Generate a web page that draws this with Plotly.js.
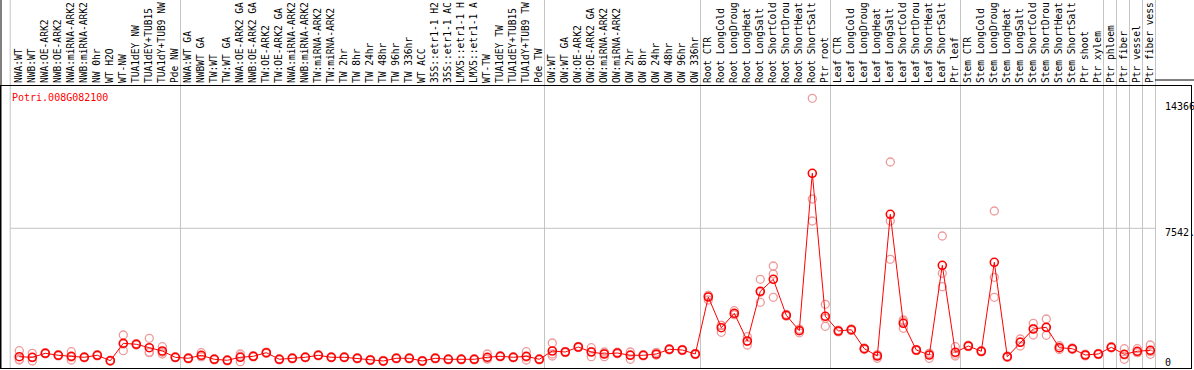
<!DOCTYPE html>
<html>
<head>
<meta charset="utf-8">
<script src="https://cdn.plot.ly/plotly-3.0.1.min.js"></script>
<style>html,body{margin:0;padding:0;background:#fff;}#chart{width:1194px;height:370px;}</style>
</head>
<body>
<div id="chart"></div>
<script>
const geneName = "Potri.008G082100";

// column labels as they are visible in the header (long names are cut at the top)
const sampleLabels = [
  "NWA:WT","NWB:WT","NWA:OE-ARK2","NWB:OE-ARK2","NWA:miRNA-ARK2","NWB:miRNA-ARK2","NW 0hr","WT H2O","WT-NW","TUA1dEY NW","TUA1dEY+TUB15","TUA1dY+TUB9 NW","Pde NW",
  "NWA:WT GA","NWBWT GA","TW:WT","TW:WT GA","NWA:OE-ARK2 GA","NWB:OE-ARK2 GA","TW:OE-ARK2","TW:OE-ARK2 GA","NWA:miRNA-ARK2","NWB:miRNA-ARK2","TW:miRNA-ARK2","TW:miRNA-ARK2",
  "TW 2hr","TW 8hr","TW 24hr","TW 48hr","TW 96hr","TW 336hr","WT ACC","35S::etr1-1 H2","35S::etr1-1 AC","LMX5::etr1-1 H","LMX5::etr1-1 A","WT-TW","TUA1dEY TW","TUA1dEY+TUB15","TUA1dY+TUB9 TW","Pde TW",
  "OW:WT","OW:WT GA","OW:OE-ARK2","OW:OE-ARK2 GA","OW:miRNA-ARK2","OW:miRNA-ARK2","OW 2hr","OW 8hr","OW 24hr","OW 48hr","OW 96hr","OW 336hr",
  "Root CTR","Root LongCold","Root LongDroug","Root LongHeat","Root LongSalt","Root ShortCold","Root ShortDrou","Root ShortHeat","Root ShortSalt","Ptr root",
  "Leaf CTR","Leaf LongCold","Leaf LongDroug","Leaf LongHeat","Leaf LongSalt","Leaf ShortCold","Leaf ShortDrou","Leaf ShortHeat","Leaf ShortSalt","Ptr leaf",
  "Stem CTR","Stem LongCold","Stem LongDroug","Stem LongHeat","Stem LongSalt","Stem ShortCold","Stem ShortDrou","Stem ShortHeat","Stem ShortSalt","Ptr shoot","Ptr xylem",
  "Ptr phloem","Ptr fiber","Ptr vessel","Ptr fiber vess"
];

// group start indices (separators)
const groupStarts = [0, 13, 41, 53, 63, 73, 84, 85, 86, 87, 88];

const meanValues = [
  610,578,794,686,632,578,686,394,1334,1280,1096,918,578,
  524,686,470,416,578,632,826,470,524,578,686,578,578,524,432,378,524,524,378,524,470,470,470,578,632,578,632,470,
  918,864,1134,864,756,810,686,686,756,1010,972,756,
  3833,2176,2953,1458,4141,4789,2845,2014,10512,2791,
  1998,2068,1042,648,8298,2413,972,702,5545,848,
  1188,902,5707,610,1388,2106,2197,1096,1042,702,756,
  1118,740,902,956
];

const rep1 = [
  934,794,830,720,880,610,720,420,1782,1320,1604,1150,610,
  560,826,500,450,756,670,860,500,560,610,720,610,610,560,460,410,560,560,410,560,500,500,500,756,670,610,880,500,
  1350,900,1170,1096,864,850,864,720,848,1050,1010,790,
  3671,1928,3094,1690,4789,5507,2900,1900,14562,3439,
  1950,2110,1000,524,11122,2592,1010,524,7127,1150,
  1230,940,8476,650,1566,2413,2646,1200,1080,750,790,
  1150,1042,1042,1242
];
const rep2 = [
  432,378,760,650,432,550,650,370,934,1240,826,756,550,
  490,616,440,380,340,600,790,440,490,550,650,550,550,490,400,350,490,490,350,490,440,440,440,490,600,550,432,440,
  648,830,1100,610,610,770,470,650,710,970,940,720,
  3914,2300,2882,1242,3547,5075,2800,2100,9124,2251,
  2050,2020,1080,710,7937,2143,940,790,5113,648,
  1150,870,4897,570,1188,1782,1765,1000,1000,650,720,
  1080,470,830,740
];
const rep3 = [
  464,562,792,688,584,574,688,392,1286,1280,858,848,574,
  522,616,470,418,638,626,828,470,522,574,688,574,574,522,436,374,522,522,374,522,470,470,470,488,626,574,584,470,
  756,862,1132,886,794,810,724,688,710,1010,966,758,
  3914,2300,2883,1442,4087,3817,2835,2042,7937,2683,
  1994,2074,1046,710,5869,2504,966,792,4389,746,
  1184,896,3817,610,1410,2123,2180,1088,1046,706,758,
  1124,708,834,886
];

const tickValues = [0, 7542, 14366];
const tickLabels = ["0", "7542.", "14366"];

const idx = sampleLabels.map((_, i) => i);
const mono = "DejaVu Sans Mono, Liberation Mono, monospace";

const repX = idx.concat(idx, idx);
const repY = rep1.concat(rep2, rep3);

const traces = [
  {
    x: repX, y: repY, type: "scatter", mode: "markers", hoverinfo: "skip",
    marker: {symbol: "circle-open", size: 8, color: "#ee9a9a", line: {width: 1.3, color: "#ee9a9a"}},
    cliponaxis: false
  },
  {
    x: idx, y: meanValues, type: "scatter", mode: "lines+markers",
    line: {color: "#ff0000", width: 1},
    marker: {symbol: "circle-open", size: 8, color: "#ff0000", line: {width: 1.6, color: "#ff0000"}},
    cliponaxis: false
  }
];

const PX_L = 1, PX_R = 1191, PX_T = 86, PX_B = 368;
const plotW = PX_R - PX_L, plotH = PX_B - PX_T;
const step = 13;
const x0 = -(19.3 - PX_L) / step;
const xr = [x0, x0 + plotW / step];
const yTop = 15225;

const gray = "#c4c4c4";
const shapes = [];
groupStarts.forEach((g, k) => {
  const xv = (k === 0) ? -0.7 : g - 0.6;
  shapes.push({type: "line", xref: "x", yref: "paper", x0: xv, x1: xv, y0: 0, y1: 1 + PX_T / plotH,
    line: {color: gray, width: 1}, layer: "below"});
});
shapes.push({type: "line", xref: "x", yref: "y", x0: -0.7, x1: 87.4, y0: tickValues[1], y1: tickValues[1],
  line: {color: gray, width: 1}, layer: "below"});
shapes.push({type: "line", xref: "paper", yref: "paper", x0: 0, x1: 0, y0: 0, y1: 1 + PX_T / plotH,
  line: {color: "#000", width: 1}});
shapes.push({type: "line", xref: "paper", yref: "paper", x0: (1155 - PX_L) / plotW, x1: 1.01,
  y0: (PX_B - 80) / plotH, y1: (PX_B - 80) / plotH, line: {color: "#000", width: 1}});

const labelShift = [6, -4, -5];
const annotations = tickValues.map((v, k) => ({
  xref: "paper", yref: "y", x: (1163 - PX_L) / plotW, y: v, text: tickLabels[k],
  xanchor: "left", yanchor: "middle", showarrow: false, yshift: labelShift[k],
  font: {family: mono, size: 10, color: "#000"}
}));
annotations.push({
  xref: "paper", yref: "paper", x: (10 - PX_L) / plotW, y: (PX_B - 97) / plotH, text: geneName,
  xanchor: "left", yanchor: "middle", showarrow: false,
  font: {family: mono, size: 10, color: "#ff0000"}
});

const layout = {
  width: 1194, height: 370,
  margin: {l: PX_L, r: 1194 - PX_R, t: PX_T, b: 370 - PX_B, pad: 0},
  paper_bgcolor: "#fff", plot_bgcolor: "#fff",
  showlegend: false,
  xaxis: {
    type: "linear", range: xr, side: "top", tickmode: "array", tickvals: idx, ticktext: sampleLabels,
    tickangle: -90, ticks: "", showgrid: false, zeroline: false,
    showline: true, mirror: true, linecolor: "#000", linewidth: 1,
    tickfont: {family: mono, size: 9.6, color: "#000"}, automargin: false
  },
  yaxis: {
    range: [0, yTop], showgrid: false, zeroline: false, showticklabels: false, ticks: "",
    showline: true, mirror: true, linecolor: "#000", linewidth: 1, automargin: false
  },
  shapes: shapes,
  annotations: annotations
};

Plotly.newPlot("chart", traces, layout, {staticPlot: true, displayModeBar: false});
</script>
</body>
</html>
